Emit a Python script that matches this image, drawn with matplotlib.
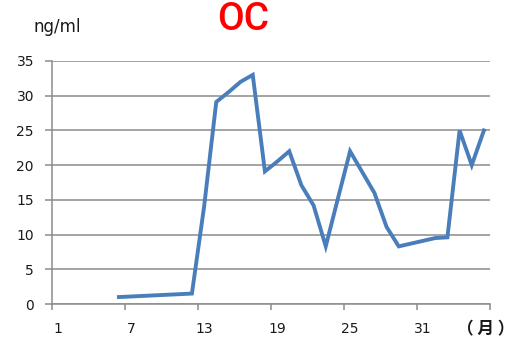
import numpy as np
import matplotlib
matplotlib.use("Agg")
import matplotlib.pyplot as plt

# month index (1..36) and OC values
months = [6, 12, 13, 14, 15, 16, 17, 18, 19, 20, 21, 22, 23, 24, 25, 26, 27, 28,
          29, 30, 31, 32, 33, 34, 35, 36]
oc = [1.0, 1.5, 14.0, 29.1, 30.5, 32.0, 33.0, 19.1, 20.5, 22.0, 17.1, 14.2, 8.3, 15.2,
      22.0, 19.0, 16.0, 11.1, 8.3, 8.7, 9.1, 9.5, 9.6, 25.0, 20.0, 25.0]
n_months = 36
tick_labels = ["1", "7", "13", "19", "25", "31"]
y_ticks = [0, 5, 10, 15, 20, 25, 30, 35]

grid_col = "#8c8c8c"
line_col = "#4a7ebb"
text_col = "#1a1a1a"

fig = plt.figure(figsize=(5.14, 3.46), dpi=100)
ax = fig.add_axes([52 / 514, 1 - 304 / 346, 438 / 514, 243 / 346])

x = np.array(months) - 0.5
ax.plot(x, oc, color=line_col, lw=2.8, solid_joinstyle="miter")

ax.set_xlim(0, n_months)
ax.set_ylim(0, 35)
ax.set_yticks(y_ticks)
ax.yaxis.grid(True, color=grid_col, lw=1.1)
ax.set_axisbelow(True)

# tick marks between categories, labels at category centres
ax.set_xticks(np.arange(0, n_months + 1, 6))
ax.set_xticklabels([])
ax.set_xticks(np.arange(0, n_months, 6) + 0.5, minor=True)
ax.set_xticklabels(tick_labels, minor=True)
ax.tick_params(axis="x", which="major", length=4.5, width=1.1, color=grid_col)
ax.tick_params(axis="x", which="minor", length=0, pad=13, labelsize=10, labelcolor=text_col)
ax.tick_params(axis="y", length=5, width=1.1, color=grid_col, pad=8, labelsize=10,
               labelcolor=text_col)

for s in ["top", "right"]:
    ax.spines[s].set_visible(False)
for s in ["left", "bottom"]:
    ax.spines[s].set_color(grid_col)
    ax.spines[s].set_linewidth(1.1)

fig.text(57 / 514, 1 - 27 / 346, "ng/ml", ha="center", va="center", fontsize=12,
         color=text_col)
fig.text(243 / 514, 1 - 19 / 346, "OC", ha="center", va="center", fontsize=28,
         color="#ff0000", family=["Roboto", "DejaVu Sans"], weight="medium")
fig.text(486 / 514, 1 - 329 / 346, "（ 月 ）", ha="center", va="center", fontsize=12,
         color=text_col, weight="bold", family=["Noto Sans CJK JP", "DejaVu Sans"])

fig.savefig("out.png", dpi=100)
